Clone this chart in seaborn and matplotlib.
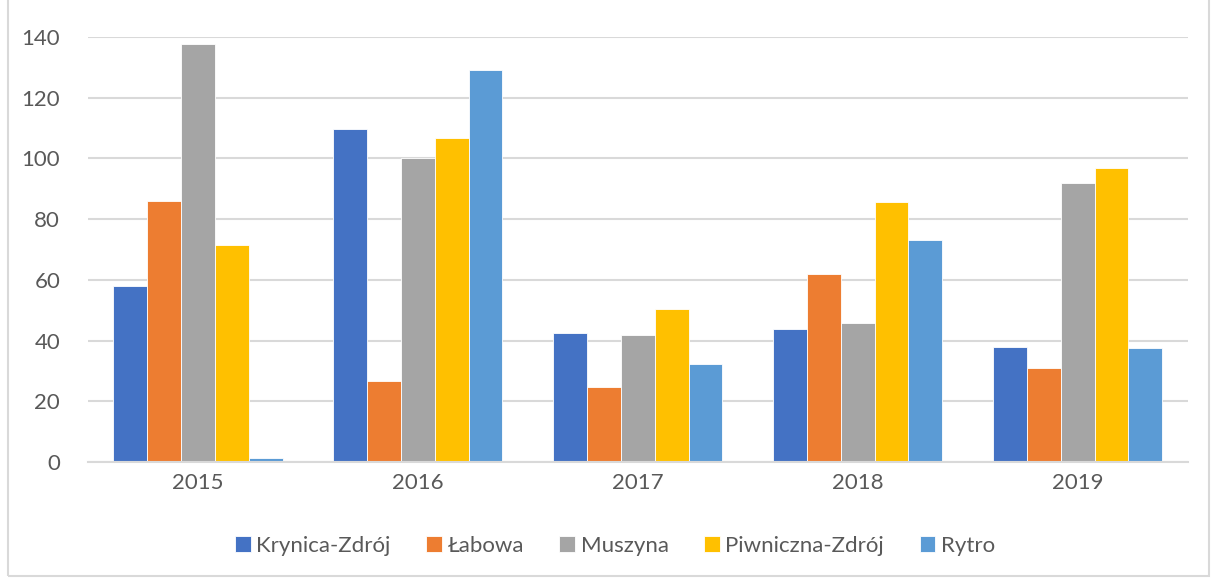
import matplotlib
matplotlib.use("Agg")
import matplotlib.pyplot as plt
import seaborn as sns
import pandas as pd
from matplotlib.patches import Rectangle

years = ["2015", "2016", "2017", "2018", "2019"]
krynica = [58, 109.6, 42.4, 43.7, 38]
labowa = [86.1, 26.7, 24.7, 61.9, 31]
muszyna = [137.8, 100.1, 41.8, 45.8, 91.9]
piwniczna = [71.5, 106.8, 50.3, 85.7, 96.9]
rytro = [1.2, 129, 32.2, 73.3, 37.5]

series = {
    "Krynica-Zdrój": krynica,
    "Łabowa": labowa,
    "Muszyna": muszyna,
    "Piwniczna-Zdrój": piwniczna,
    "Rytro": rytro,
}
colors = ["#4472C4", "#ED7D31", "#A5A5A5", "#FFC000", "#5B9BD5"]

rows = []
for name, vals in series.items():
    for y, v in zip(years, vals):
        rows.append({"Rok": y, "Gmina": name, "Wartość": v})
df = pd.DataFrame(rows)

sns.set_theme(style="white")
plt.rcParams["font.family"] = ["Lato", "DejaVu Sans"]
text_color = "#595959"
grid_color = "#D9D9D9"

fig = plt.figure(figsize=(12.13, 5.79), dpi=100)
ax = fig.add_axes([0.0725, 0.202, 0.9065, 0.734])

sns.barplot(data=df, x="Rok", y="Wartość", hue="Gmina", palette=colors,
            width=0.77, gap=0, saturation=1, ax=ax, edgecolor="white",
            linewidth=0.6, legend=True)

ax.set_ylim(0, 140)
ax.set_yticks(range(0, 141, 20))
ax.set_xlim(-0.5, 4.5)
ax.yaxis.grid(True, color=grid_color, linewidth=1.5)
ax.set_axisbelow(True)
for s in ["top", "right", "left"]:
    ax.spines[s].set_visible(False)
ax.spines["bottom"].set_color(grid_color)
ax.spines["bottom"].set_linewidth(1.5)
ax.set_xlabel("")
ax.set_ylabel("")
ax.tick_params(axis="both", length=0, labelsize=16, colors=text_color)
ax.tick_params(axis="y", pad=20)
ax.tick_params(axis="x", pad=8)

handles, labels = ax.get_legend_handles_labels()
ax.legend_.remove()
fig.legend(handles, labels, loc="center", bbox_to_anchor=(0.507, 0.057),
           ncol=5, frameon=False, fontsize=16, handlelength=0.7,
           handleheight=0.7, handletextpad=0.25, columnspacing=1.6,
           labelcolor=text_color)

fig.patches.append(Rectangle((0.007, 0.005), 0.99, 1.2, transform=fig.transFigure,
                             fill=False, edgecolor="#D9D9D9", linewidth=1.5))

fig.savefig("out.png", dpi=100)
